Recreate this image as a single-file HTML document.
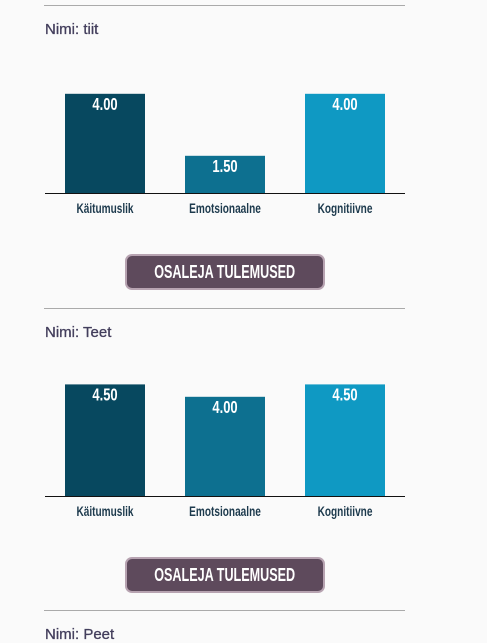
<!DOCTYPE html>
<html><head><meta charset="utf-8">
<style>
body{margin:0;background:#fafafa;width:487px;height:635px;overflow:hidden;position:relative;font-family:"Liberation Sans",sans-serif}
.hr{position:absolute;left:44px;width:361px;height:0;border-top:1px solid #aaa}
.name{position:absolute;left:45px;font-size:15px;color:#433e5c;-webkit-text-stroke:0.3px #433e5c}
.btn{position:absolute;left:125px;width:196px;height:32px;background:#5e4a5c;border:2px solid #b7a3b1;border-radius:7px;color:#fff;font-weight:bold;font-size:18px;text-align:center;line-height:33px;white-space:nowrap;overflow:hidden}
.btn span{display:inline-block;transform:scaleX(0.7);white-space:nowrap;margin:0 -40px}
svg{position:absolute;left:0}
</style></head><body>
<div class="hr" style="top:5px"></div>
<div class="name" style="top:21px">Nimi: tiit</div>
<svg id="c1" width="487" height="230" style="top:0"></svg>
<div class="btn" style="top:254px"><span>OSALEJA TULEMUSED</span></div>
<div class="hr" style="top:308px"></div>
<div class="name" style="top:324px">Nimi: Teet</div>
<svg id="c2" width="487" height="230" style="top:303px"></svg>
<div class="btn" style="top:557px"><span>OSALEJA TULEMUSED</span></div>
<div class="hr" style="top:610px"></div>
<div class="name" style="top:626px">Nimi: Peet</div>
<script>
const categories=["Käitumuslik","Emotsionaalne","Kognitiivne"];
const tiitValues=[4.00,1.50,4.00];
const teetValues=[4.50,4.00,4.50];
const colors=["#07485f","#0d7090","#0f99c3"];
const NS="http://www.w3.org/2000/svg";
function cond(t,cx,cy,s){t.setAttribute("x",0);t.setAttribute("y",0);t.setAttribute("transform","translate("+cx+","+cy+") scale("+s+",1)");}
function draw(id,values,base){
  const svg=document.getElementById(id);
  const y=v=>base-v*24.8;
  const x=i=>65+i*120;
  values.forEach((v,i)=>{
    const r=document.createElementNS(NS,"rect");
    
    
    r.setAttribute("x",x(i));r.setAttribute("width",80);
    r.setAttribute("y",y(v));r.setAttribute("height",base-y(v));
    r.setAttribute("fill",colors[i]);svg.appendChild(r);
    const t=document.createElementNS(NS,"text");
    
    
    cond(t,x(i)+40,y(v)+16,0.72);
    t.setAttribute("text-anchor","middle");t.setAttribute("fill","#fff");
    t.setAttribute("font-weight","bold");t.setAttribute("font-size","18");
    t.textContent=v.toFixed(2);svg.appendChild(t);
    const l=document.createElementNS(NS,"text");
    
    
    cond(l,x(i)+40,base+20,0.72);
    l.setAttribute("text-anchor","middle");l.setAttribute("fill","#1d3a4d");
    l.setAttribute("font-weight","bold");l.setAttribute("font-size","14");
    l.textContent=categories[i];svg.appendChild(l);
  });
  const ax=document.createElementNS(NS,"line");
  
  
  ax.setAttribute("x1",45);ax.setAttribute("x2",405);
  ax.setAttribute("y1",base+0.5);ax.setAttribute("y2",base+0.5);
  ax.setAttribute("stroke","#111");svg.appendChild(ax);
}
draw("c1",tiitValues,193);
draw("c2",teetValues,193);
</script>
</body></html>
